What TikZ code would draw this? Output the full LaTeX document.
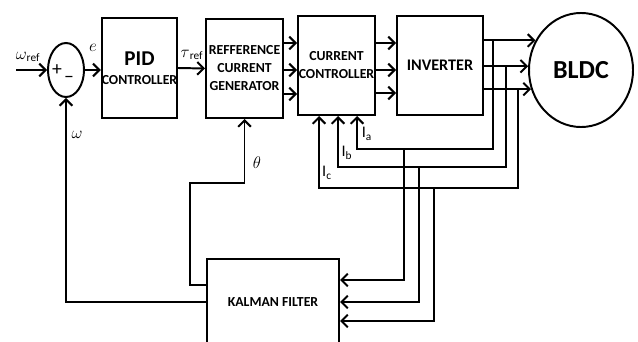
\documentclass[tikz,border=0pt]{standalone}
\usepackage{fontspec}
\setmainfont{Carlito}
\usetikzlibrary{arrows.meta}
\usetikzlibrary{shapes.geometric}

\begin{document}
\begin{tikzpicture}[x=0.025cm,y=-0.025cm,
  every node/.style={font=\bfseries\fontsize{9.8}{12.8}\selectfont,align=center},
  blk/.style={draw,line width=1.4pt,inner sep=0pt},
  lbl/.style={font=\normalfont\fontsize{11.5}{13}\selectfont,inner sep=0pt},
  arr/.style={line width=1.4pt,-{Straight Barb[length=4.5pt,width=9pt]}}]
\useasboundingbox (0,0) rectangle (638,342);
% blocks
\node[blk,ellipse,minimum width=0.9cm,minimum height=1.35cm] (sum) at (66,70) {};
\node[blk,minimum width=1.825cm,minimum height=2.5cm] (pid) at (139.5,68)
  {{\fontsize{15}{16}\selectfont PID}\\[1pt]CONTROLLER};
\node[blk,minimum width=1.925cm,minimum height=2.475cm] (gen) at (244.5,68.5)
  {REFFERENCE\\CURRENT\\GENERATOR};
\node[blk,minimum width=1.925cm,minimum height=2.475cm] (ctrl) at (336.5,65.5)
  {CURRENT\\CONTROLLER};
\node[blk,minimum width=2.15cm,minimum height=2.475cm] (inv) at (440,65.5)
  {\fontsize{11.5}{13}\selectfont INVERTER};
\node[blk,ellipse,minimum width=2.6cm,minimum height=2.85cm] (bldc) at (581,70)
  {\fontsize{18.5}{20}\selectfont BLDC};
\node[blk,minimum width=3.3cm,minimum height=2.15cm] (kal) at (273,302)
  {KALMAN FILTER};
% signs and labels
\node[lbl] (plus) at (57,70) {\fontsize{14}{14}\selectfont +};
\node[lbl] (minus) at (69,79) {\fontsize{14}{14}\selectfont --};
\node[lbl] (wref) at (28,57) {$\omega$\textsubscript{ref}};
\node[lbl] (err) at (93,48) {$e$};
\node[lbl] (tref) at (192,55) {$\tau$\textsubscript{ref}};
\node[lbl] (w) at (77,135) {$\omega$};
\node[lbl] (th) at (257,163) {$\theta$};
\node[lbl] (la) at (367,134) {I\textsubscript{a}};
\node[lbl] (lb) at (347,153) {I\textsubscript{b}};
\node[lbl] (lc) at (327,173) {I\textsubscript{c}};
% forward path
\coordinate (in) at (16,70);
\draw[arr] (in) -- (sum.west);
\draw[arr] (sum.east) -- (pid.west |- sum.east);
\draw[arr] (pid.east) -- (gen.west);
\foreach \yy in {43,70,94}
  \draw[arr] (gen.east |- 0,\yy) -- (ctrl.west |- 0,\yy);
\foreach \yy in {43,70,93}
  \draw[arr] (ctrl.east |- 0,\yy) -- (inv.west |- 0,\yy);
\foreach \ang in {147,176,201}
  \draw[arr] (inv.east |- bldc.\ang) -- (bldc.\ang);
% current taps
\coordinate (ta) at (493,41);
\coordinate (tb) at (506,66);
\coordinate (tc) at (518,89);
\coordinate (ia) at (357,149);
\coordinate (ib) at (338,167);
\coordinate (ic) at (319,188);
\draw[arr] (ta) |- (ia) -- (ia |- ctrl.south);
\draw[arr] (tb) |- (ib) -- (ib |- ctrl.south);
\draw[arr] (tc) |- (ic) -- (ic |- ctrl.south);
% into the filter
\coordinate (ka) at (404,149);
\coordinate (kb) at (419,167);
\coordinate (kc) at (434,188);
\draw[arr] (ka) |- (kal.east |- 0,280);
\draw[arr] (kb) |- (kal.east |- 0,302);
\draw[arr] (kc) |- (kal.east |- 0,321);
% feedback
\coordinate (bend) at (190,183);
\draw[arr] (kal.west) -| (sum.south);
\draw[arr] (kal.west |- 0,285) -| (bend) -| (gen.south);
\end{tikzpicture}
\end{document}
